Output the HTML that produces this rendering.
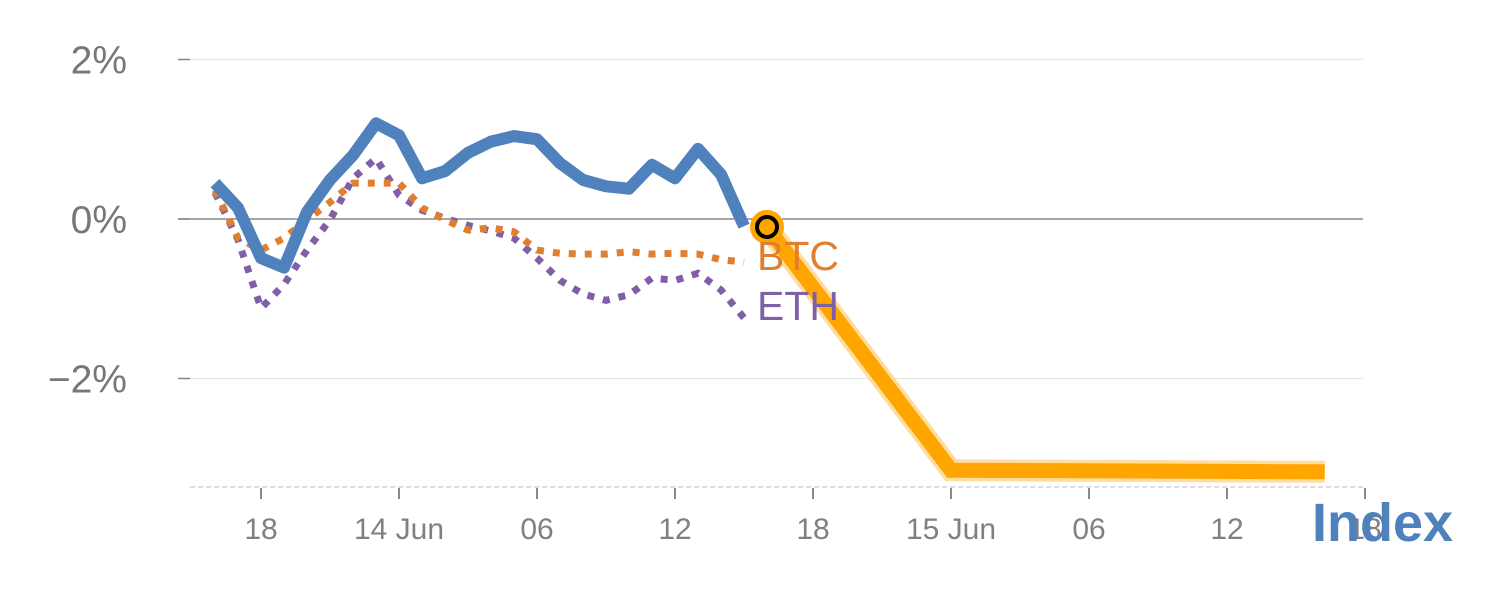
<!DOCTYPE html>
<html><head><meta charset="utf-8"><style>
body{margin:0;background:#fff;}
svg{display:block;font-family:"Liberation Sans",sans-serif;}
</style></head><body>
<svg id="chart" width="1500" height="600"></svg>
<script>
const hours = [0,1,2,3,4,5,6,7,8,9,10,11,12,13,14,15,16,17,18,19,20,21,22,23];
const indexVals = [0.45,0.14,-0.49,-0.61,0.09,0.49,0.80,1.20,1.05,0.51,0.60,0.83,0.97,1.04,1.00,0.70,0.49,0.41,0.38,0.68,0.51,0.88,0.56,-0.09];
const btcVals = [0.36,-0.24,-0.39,-0.24,-0.01,0.21,0.45,0.45,0.45,0.14,-0.01,-0.14,-0.11,-0.16,-0.39,-0.43,-0.44,-0.44,-0.41,-0.44,-0.43,-0.44,-0.51,-0.54];
const ethVals = [0.33,-0.26,-1.12,-0.82,-0.39,-0.01,0.51,0.76,0.30,0.11,0.01,-0.08,-0.15,-0.24,-0.49,-0.77,-0.94,-1.02,-0.95,-0.74,-0.77,-0.68,-0.89,-1.24];
const projHours = [24,32,48.25];
const projVals = [-0.1,-3.15,-3.17];
const xTickHours = [2,8,14,20,26,32,38,44,50];
const xTickLabels = ["18","14 Jun","06","12","18","15 Jun","06","12","18"];
const yTicks = [2,0,-2];
const yTickLabels = ["2%","0%","\u22122%"];

const X = h => 215 + h*23;
const Y = v => 219 - v*79.75;
const svg = document.getElementById('chart');
const NS = 'http://www.w3.org/2000/svg';
function mk(tag, attrs, parent){const e=document.createElementNS(NS,tag);for(const k in attrs)e.setAttribute(k,attrs[k]);(parent||svg).appendChild(e);return e;}

yTicks.forEach((v,i)=>{
  const g=mk('line',{x1:178,x2:1363,y1:Y(v),y2:Y(v),stroke:v===0?'#888':'#e6e6e6','stroke-width':v===0?1.5:1.2});
  
  
  const tk=mk('line',{x1:178,x2:190,y1:Y(v),y2:Y(v),stroke:'#888','stroke-width':1.5});
  
  
  const t=mk('text',{x:127,y:Y(v)+14,'text-anchor':'end','font-size':39,fill:'#777'});
  t.textContent=yTickLabels[i];
  
  
});
const ax=mk('line',{x1:190,x2:1365,y1:487,y2:487,stroke:'#ddd','stroke-width':2,'stroke-dasharray':'5,3'});


xTickHours.forEach((h,i)=>{
  const tk=mk('line',{x1:X(h),x2:X(h),y1:488,y2:499,stroke:'#888','stroke-width':2});
  
  
  const t=mk('text',{x:X(h),y:539,'text-anchor':'middle','font-size':30,fill:'#808080'});
  t.textContent=xTickLabels[i];
  
  
});
function pts(hs,vs){return hs.map((h,i)=>X(h)+','+Y(vs[i])).join(' ');}
const ethL=mk('polyline',{points:pts(hours,ethVals),fill:'none',stroke:'#7f5fa6','stroke-width':7,'stroke-dasharray':'7,9'});


const btcL=mk('polyline',{points:pts(hours,btcVals),fill:'none',stroke:'#e07f30','stroke-width':7,'stroke-dasharray':'7,9'});


const idxL=mk('polyline',{points:pts(hours,indexVals),fill:'none',stroke:'#4f81bd','stroke-width':12,'stroke-linejoin':'round'});


const pg=mk('polyline',{points:pts(projHours,projVals),fill:'none',stroke:'#ffdca0','stroke-width':22,'stroke-linejoin':'miter'});


const pl=mk('polyline',{points:pts(projHours,projVals),fill:'none',stroke:'#ffa500','stroke-width':15,'stroke-linejoin':'miter'});


const m=mk('circle',{cx:X(projHours[0]),cy:Y(projVals[0]),r:14,fill:'#ffa500',stroke:'#ffa500','stroke-width':6});


const m2=mk('circle',{cx:X(projHours[0]),cy:Y(projVals[0]),r:10,fill:'#ffa500',stroke:'#000','stroke-width':4});


const bt=mk('text',{x:757,y:270,'font-size':41,fill:'#e07f30'});bt.textContent='BTC';


const et=mk('text',{x:757,y:320,'font-size':41,fill:'#7f5fa6'});et.textContent='ETH';


const ix=mk('text',{x:1312,y:541,'font-size':54,'font-weight':'bold',fill:'#4f81bd'});ix.textContent='Index';


</script>
</body></html>
